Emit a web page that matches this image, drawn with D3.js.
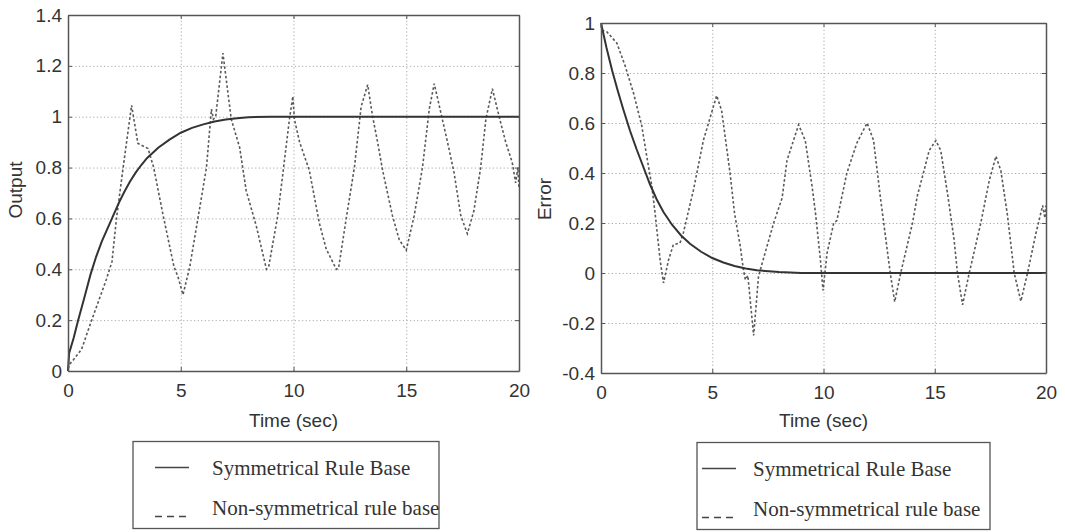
<!DOCTYPE html>
<html>
<head>
<meta charset="utf-8">
<script src="https://cdn.jsdelivr.net/npm/d3@7"></script>
<style>
  body { margin: 0; background: #fff; }
  svg { display: block; }
</style>
</head>
<body>
<div id="chart"></div>
<script>
// ---- data ----
const xTicks = [0, 5, 10, 15, 20];
const outputTicks = [0, 0.2, 0.4, 0.6, 0.8, 1, 1.2, 1.4];
const errorTicks = [-0.4, -0.2, 0, 0.2, 0.4, 0.6, 0.8, 1];
const legendLabels = ['Symmetrical Rule Base', 'Non-symmetrical rule base'];

// [time, value]
const symOutput = [
  [0, 0], [0.05, 0.07], [0.25, 0.13], [0.45, 0.2], [0.7, 0.28], [1.0, 0.38],
  [1.25, 0.45], [1.5, 0.51], [1.75, 0.56], [2.0, 0.61], [2.25, 0.66], [2.5, 0.705],
  [2.75, 0.745], [3.0, 0.78], [3.25, 0.81], [3.5, 0.837], [4.0, 0.878], [4.5, 0.91],
  [5.0, 0.937], [5.5, 0.956], [6.0, 0.97], [6.5, 0.981], [7.0, 0.989], [7.5, 0.994],
  [8.0, 0.998], [9.0, 1.0], [20, 1.0],
];
const nonSymOutput = [
  [0, 0.01], [0.1, 0.03], [0.25, 0.045], [0.6, 0.085], [1.05, 0.2], [1.7, 0.36],
  [1.95, 0.43], [2.15, 0.6], [2.4, 0.77], [2.82, 1.045], [3.1, 0.895], [3.55, 0.875],
  [3.8, 0.8], [4.2, 0.62], [4.7, 0.41], [4.88, 0.37], [5.1, 0.3], [5.4, 0.41],
  [5.8, 0.62], [6.14, 0.8], [6.36, 1.03], [6.45, 0.99], [6.55, 1.0], [6.87, 1.25],
  [7.24, 0.99], [7.61, 0.88], [7.9, 0.71], [8.35, 0.57], [8.8, 0.4], [8.9, 0.41],
  [9.3, 0.61], [9.82, 0.99], [9.97, 1.08], [10.04, 0.99], [10.27, 0.9], [10.7, 0.79],
  [11.15, 0.58], [11.45, 0.48], [11.9, 0.4], [12.0, 0.405], [12.33, 0.595], [12.7, 0.8],
  [13.0, 1.04], [13.29, 1.126], [13.51, 1.0], [13.73, 0.9], [13.95, 0.79], [14.39, 0.61],
  [14.69, 0.516], [15.0, 0.475], [15.35, 0.61], [15.72, 0.8], [16.02, 1.03], [16.24, 1.13],
  [16.6, 0.99], [16.83, 0.9], [17.12, 0.78], [17.42, 0.61], [17.71, 0.54], [18.0, 0.63],
  [18.3, 0.8], [18.53, 0.99], [18.82, 1.11], [19.12, 1.0], [19.41, 0.9], [19.7, 0.82],
  [19.85, 0.74], [19.95, 0.8], [20, 0.72],
];
const symError = [
  [0, 1.0], [0.1, 0.96], [0.25, 0.9], [0.5, 0.81], [0.75, 0.73], [1.0, 0.655],
  [1.3, 0.57], [1.6, 0.495], [1.9, 0.425], [2.2, 0.355], [2.5, 0.295], [2.8, 0.245],
  [3.2, 0.192], [3.6, 0.15], [4.0, 0.117], [4.5, 0.085], [5.0, 0.06], [5.5, 0.042],
  [6.0, 0.028], [6.5, 0.018], [7.0, 0.011], [8.0, 0.004], [9.0, 0.0], [20, 0.0],
];
const nonSymError = [
  [0, 0.99], [0.05, 0.97], [0.26, 0.965], [0.71, 0.92], [1.08, 0.83], [1.46, 0.72],
  [1.83, 0.59], [2.05, 0.47], [2.28, 0.35], [2.43, 0.24], [2.66, 0.05], [2.81, -0.04],
  [3.03, 0.05], [3.25, 0.113], [3.55, 0.12], [3.7, 0.16], [4.15, 0.33], [4.6, 0.53],
  [5.2, 0.71], [5.42, 0.65], [5.8, 0.4], [6.0, 0.24], [6.26, 0.107], [6.4, 0.013],
  [6.49, -0.027], [6.6, -0.01], [6.86, -0.25], [7.08, -0.013], [7.46, 0.107], [7.76, 0.2],
  [8.14, 0.3], [8.36, 0.45], [8.88, 0.593], [9.18, 0.53], [9.48, 0.35], [9.64, 0.24],
  [9.86, 0.053], [9.98, -0.07], [10.16, 0.08], [10.46, 0.2], [10.6, 0.21], [11.05, 0.4],
  [11.5, 0.52], [11.96, 0.6], [12.25, 0.53], [12.56, 0.3], [13.0, 0.0], [13.2, -0.115],
  [13.47, 0.0], [14.0, 0.2], [14.22, 0.31], [14.52, 0.41], [14.75, 0.49], [15.05, 0.53],
  [15.27, 0.49], [15.57, 0.32], [15.87, 0.133], [16.02, 0.0], [16.25, -0.127], [16.55, 0.0],
  [17.07, 0.2], [17.45, 0.37], [17.75, 0.467], [17.97, 0.41], [18.27, 0.23], [18.57, 0.0],
  [18.87, -0.113], [19.17, 0.0], [19.55, 0.16], [19.85, 0.27], [19.95, 0.22], [20, 0.27],
];

// ---- drawing ----
const w = 1065;
const h = 532;
const svg = d3
  .select('#chart')
  .append('svg')
  .attr('width', w)
  .attr('height', h);

const sansFont = 'Arial, "Liberation Sans", Helvetica, sans-serif';
const serifFont = '"Times New Roman", "Liberation Serif", serif';
const fmt = d => String(Math.round(d * 10) / 10);

const drawPanel = opts => {
  const xScale = d3.scaleLinear().domain([0, 20]).range([opts.left, opts.right]);
  const yScale = d3.scaleLinear().domain(opts.yDomain).range([opts.bottom, opts.top]);
  const g = svg.append('g');
  const pw = opts.right - opts.left;
  const ph = opts.bottom - opts.top;

  // dotted grid
  const grid = g.append('g').attr('class', 'grid');
  grid
    .append('g')
    .attr('transform', 'translate(0,' + opts.bottom + ')')
    .call(d3.axisBottom(xScale).tickValues(xTicks).tickSize(-ph).tickFormat(''));
  grid
    .append('g')
    .attr('transform', 'translate(' + opts.left + ',0)')
    .call(d3.axisLeft(yScale).tickValues(opts.yTicks).tickSize(-pw).tickFormat(''));
  grid.selectAll('.domain').remove();
  grid
    .selectAll('line')
    .style('stroke', '#a8a8a8')
    .style('stroke-width', 1)
    .style('stroke-dasharray', '1.2,2.4');

  // series
  const line = d3
    .line()
    .x(d => xScale(d[0]))
    .y(d => yScale(d[1]));
  g.append('path')
    .datum(opts.dashed)
    .attr('d', line)
    .attr('fill', 'none')
    .attr('stroke', '#595959')
    .attr('stroke-width', 1.6)
    .attr('stroke-dasharray', '2.6,2.2');
  g.append('path')
    .datum(opts.solid)
    .attr('d', line)
    .attr('fill', 'none')
    .attr('stroke', '#333')
    .attr('stroke-width', 2);

  // axes with inward ticks on all four sides
  const axes = [
    ['translate(0,' + opts.bottom + ')', d3.axisBottom(xScale).tickValues(xTicks).tickFormat(fmt).tickPadding(13)],
    ['translate(0,' + opts.top + ')', d3.axisTop(xScale).tickValues(xTicks).tickFormat('')],
    ['translate(' + opts.left + ',0)', d3.axisLeft(yScale).tickValues(opts.yTicks).tickFormat(fmt).tickPadding(6)],
    ['translate(' + opts.right + ',0)', d3.axisRight(yScale).tickValues(opts.yTicks).tickFormat('')],
  ];
  axes.forEach(a => {
    const ax = g
      .append('g')
      .attr('transform', a[0])
      .call(a[1].tickSizeInner(-4).tickSizeOuter(0));
    ax.select('.domain').style('stroke', '#555').style('stroke-width', 1.5);
    ax.selectAll('line').style('stroke', '#555');
    ax.selectAll('text')
      .style('font-family', sansFont)
      .style('font-size', '19px')
      .style('fill', '#333');
  });

  // axis titles
  g.append('text')
    .attr('x', (opts.left + opts.right) / 2)
    .attr('y', 427)
    .style('text-anchor', 'middle')
    .style('font-family', sansFont)
    .style('font-size', '19px')
    .style('fill', '#333')
    .text('Time (sec)');
  g.append('text')
    .attr('transform', 'translate(' + opts.yLabelX + ',' + opts.yLabelY + ') rotate(-90)')
    .style('text-anchor', 'middle')
    .style('font-family', sansFont)
    .style('font-size', '19px')
    .style('fill', '#333')
    .text(opts.yLabel);

  // legend box
  const lg = g.append('g').attr('transform', 'translate(' + opts.legend[0] + ',' + opts.legend[1] + ')');
  lg.append('rect')
    .attr('width', opts.legend[2])
    .attr('height', 87)
    .attr('fill', '#fff')
    .attr('stroke', '#555')
    .attr('stroke-width', 1.3);
  legendLabels.forEach((label, i) => {
    const y = 28 + i * 40;
    lg.append('line')
      .attr('x1', opts.legend[3])
      .attr('x2', opts.legend[3] + 34)
      .attr('y1', i ? y + 7 : y - 2)
      .attr('y2', i ? y + 7 : y - 2)
      .attr('stroke', '#444')
      .attr('stroke-width', 1.3)
      .attr('stroke-dasharray', i ? '7,5' : null);
    lg.append('text')
      .attr('x', opts.legend[4])
      .attr('y', y + 5)
      .style('font-family', serifFont)
      .style('font-size', '21px')
      .style('fill', '#333')
      .text(label);
  });
};

drawPanel({
  left: 68, right: 519, top: 15, bottom: 371,
  yDomain: [0, 1.4], yTicks: outputTicks,
  solid: symOutput, dashed: nonSymOutput,
  yLabel: 'Output', yLabelX: 22, yLabelY: 190,
  legend: [133, 441.5, 306, 22, 79],
});
drawPanel({
  left: 601, right: 1046, top: 23, bottom: 373,
  yDomain: [-0.4, 1], yTicks: errorTicks,
  solid: symError, dashed: nonSymError,
  yLabel: 'Error', yLabelX: 551, yLabelY: 199,
  legend: [697, 442.5, 293, 5, 56],
});
</script>
</body>
</html>
